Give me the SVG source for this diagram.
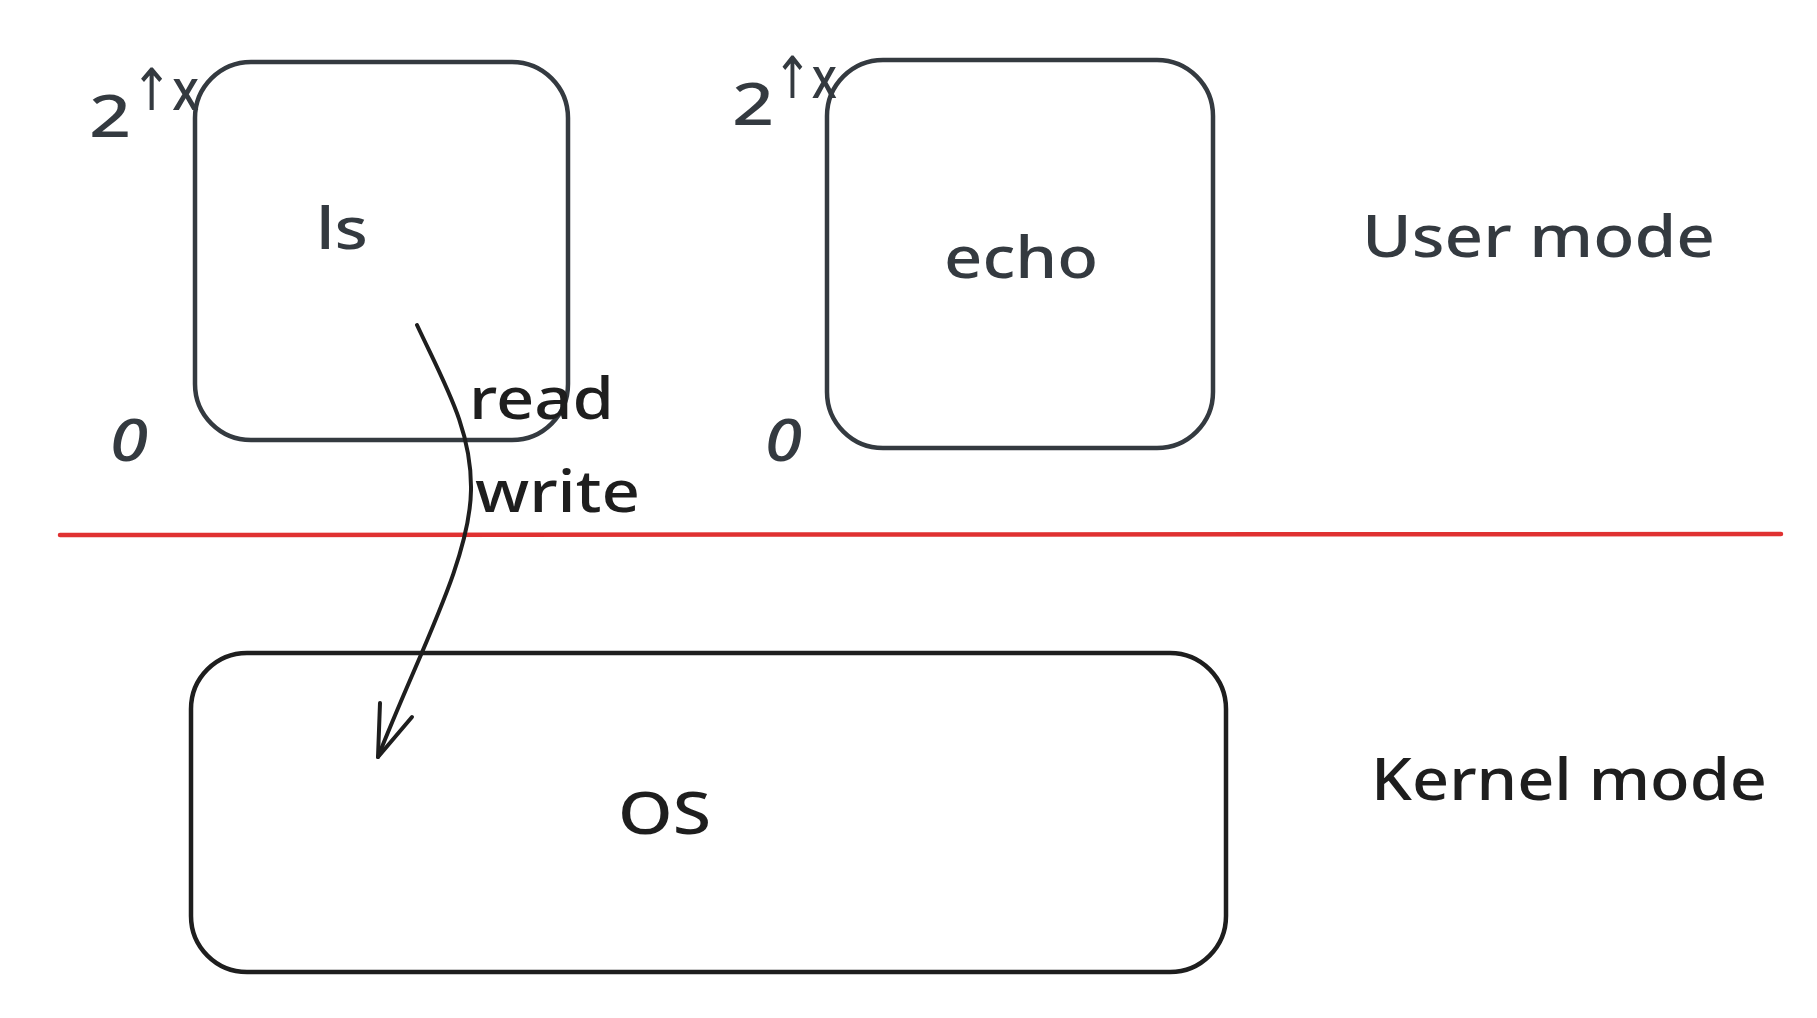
<svg xmlns="http://www.w3.org/2000/svg" width="1817" height="1018" viewBox="0 0 1817 1018">
<style>
.box{fill:#ffffff;stroke:#343a40;stroke-width:4.5;stroke-linecap:round}
.dark{stroke:#1e1e1e}
.t{font-family:"Noto Sans","DejaVu Sans",sans-serif;font-size:58px;font-weight:500;fill:#343a40}
.k{fill:#1e1e1e}
.sup{font-size:58px}
.conn{fill:none;stroke:#1e1e1e;stroke-width:4;stroke-linecap:round;stroke-linejoin:round}
</style>
<rect width="1817" height="1018" fill="#ffffff"/>
<g id="divider">
<path d="M60,535 L1781,534" fill="none" stroke="#e03131" stroke-width="4.5" stroke-linecap="round"/>
</g>
<g id="node-ls">
<rect class="box" x="195" y="62" width="373" height="378" rx="56"/>
<text class="t" x="316" y="249" textLength="52" lengthAdjust="spacingAndGlyphs">ls</text>
</g>
<g id="node-echo">
<rect class="box" x="827" y="60" width="386" height="388" rx="56"/>
<text class="t" x="944" y="278" textLength="154" lengthAdjust="spacingAndGlyphs">echo</text>
</g>
<g id="node-os">
<rect class="box dark" x="191" y="653" width="1035" height="319" rx="56"/>
<text class="t k" x="618" y="834" textLength="93" lengthAdjust="spacingAndGlyphs">OS</text>
</g>
<g id="label-ls-top"><text class="t" x="89" y="137" font-size="66"><tspan textLength="42" lengthAdjust="spacingAndGlyphs">2</tspan><tspan class="sup" x="131" y="110" textLength="68" lengthAdjust="spacingAndGlyphs">↑x</tspan></text></g>
<g id="label-ls-bottom"><text class="t" x="110" y="461" font-style="italic" textLength="38" lengthAdjust="spacingAndGlyphs">0</text></g>
<g id="label-echo-top"><text class="t" x="732" y="125" font-size="66"><tspan textLength="42" lengthAdjust="spacingAndGlyphs">2</tspan><tspan class="sup" x="773" y="98" textLength="64" lengthAdjust="spacingAndGlyphs">↑x</tspan></text></g>
<g id="label-echo-bottom"><text class="t" x="765" y="461" font-style="italic" textLength="37" lengthAdjust="spacingAndGlyphs">0</text></g>
<g id="label-user"><text class="t" x="1362" y="257" textLength="353" lengthAdjust="spacingAndGlyphs">User mode</text></g>
<g id="label-kernel"><text class="t k" x="1371" y="800" textLength="396" lengthAdjust="spacingAndGlyphs">Kernel mode</text></g>
<g id="connectors">
<path class="conn" d="M417,325 C445,385 472,430 471,490 C470,560 420,650 378,757"/>
<path class="conn" d="M380,703 L378,757 L412,717"/>
<text class="t k" x="469" y="419" textLength="145" lengthAdjust="spacingAndGlyphs">read</text>
<text class="t k" x="475" y="512" textLength="165" lengthAdjust="spacingAndGlyphs">write</text>
</g>
</svg>
